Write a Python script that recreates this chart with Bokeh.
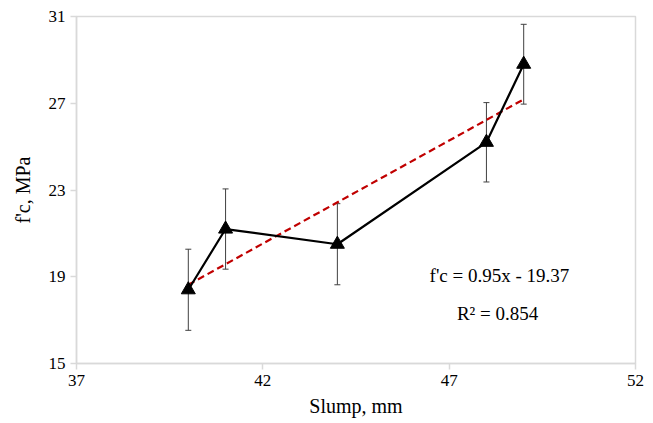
from bokeh.plotting import figure
from bokeh.models import ColumnDataSource, Whisker, TeeHead, Label, FixedTicker, Range1d
from bokeh.embed import file_html
from bokeh.resources import INLINE

slump = [40, 41, 44, 48, 49]
fc = [18.4, 21.2, 20.5, 25.2, 28.8]
err = [1.87, 1.85, 1.87, 1.83, 1.84]
slope = 0.95
intercept = -19.37
r2 = 0.854
x_ticks = [37, 42, 47, 52]
y_ticks = [15, 19, 23, 27, 31]

FONT = "Liberation Serif"
GRAY = "#d9d9d9"

p = figure(width=653, height=423, output_backend="svg", toolbar_location=None,
           x_range=Range1d(37, 52), y_range=Range1d(15, 31),
           min_border_left=76, min_border_right=18, min_border_top=16, min_border_bottom=60)
p.xgrid.visible = False
p.ygrid.visible = False
p.outline_line_color = GRAY
p.outline_line_width = 1.5

for ax in (p.xaxis[0], p.yaxis[0]):
    ax.axis_line_color = GRAY
    ax.axis_line_width = 1.5
    ax.major_tick_line_color = GRAY
    ax.major_tick_line_width = 1.5
    ax.major_tick_out = 6
    ax.major_tick_in = 0
    ax.minor_tick_line_color = None
    ax.major_label_text_font = FONT
    ax.major_label_text_font_size = "17px"
    ax.major_label_text_color = "#000000"
    ax.axis_label_text_font = FONT
    ax.axis_label_text_font_size = "20px"
    ax.axis_label_text_font_style = "normal"
    ax.axis_label_text_color = "#000000"
    ax.major_label_standoff = 5

p.xaxis.ticker = FixedTicker(ticks=x_ticks)
p.yaxis.ticker = FixedTicker(ticks=y_ticks)
p.xaxis.axis_label = "Slump, mm"
p.yaxis.axis_label = "f'c, MPa"
p.xaxis.axis_label_standoff = 6
p.yaxis.axis_label_standoff = 12

upper = [v + e for v, e in zip(fc, err)]
lower = [v - e for v, e in zip(fc, err)]
src = ColumnDataSource(dict(x=slump, y=fc, upper=upper, lower=lower))

w = Whisker(source=src, base="x", upper="upper", lower="lower", dimension="height",
            line_color="#404040", line_width=1,
            upper_head=TeeHead(size=6, line_color="#404040", line_width=1),
            lower_head=TeeHead(size=6, line_color="#404040", line_width=1))
p.add_layout(w)

tx = [slump[0], slump[-1]]
ty = [slope * x + intercept for x in tx]
p.line(tx, ty, line_color="#c00000", line_width=2.2, line_dash="7 4")

p.line("x", "y", source=src, line_color="#000000", line_width=2.2)
p.scatter("x", "y", source=src, marker="triangle", size=14, fill_color="#000000", line_color="#000000")

eq = Label(x=48.35, y=19.07, text="f'c = 0.95x - 19.37", text_font=FONT, text_font_size="19px",
           text_align="center", text_baseline="middle", text_color="#000000")
rr = Label(x=48.3, y=17.31, text="R² = 0.854", text_font=FONT, text_font_size="19px",
           text_align="center", text_baseline="middle", text_color="#000000")
p.add_layout(eq)
p.add_layout(rr)

open("out.html", "w").write(file_html(p, INLINE))
